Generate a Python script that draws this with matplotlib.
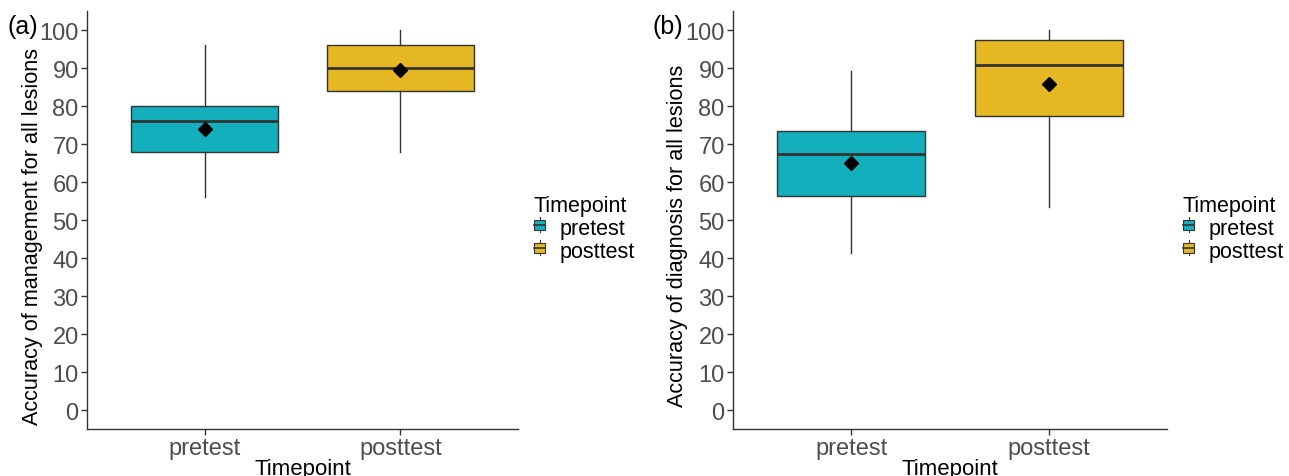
import matplotlib
matplotlib.use('Agg')
import matplotlib.pyplot as plt
from matplotlib.patches import Rectangle
from matplotlib.lines import Line2D
from matplotlib.legend_handler import HandlerBase

plt.rcParams['font.family'] = ['Liberation Sans', 'DejaVu Sans']

groups = ['pretest', 'posttest']
colors = ['#14AFBC', '#E5B823']

# panel (a): management
mgmt_whislo = [56, 68]
mgmt_q1 = [68, 84]
mgmt_med = [76, 90]
mgmt_q3 = [80, 96]
mgmt_whishi = [96, 100]
mgmt_mean = [74, 89.5]

# panel (b): diagnosis
diag_whislo = [41.3, 53.4]
diag_q1 = [56.4, 77.4]
diag_med = [67.3, 90.7]
diag_q3 = [73.4, 97.4]
diag_whishi = [89.3, 100]
diag_mean = [65.1, 85.7]

yticks = list(range(0, 101, 10))


class BoxKey(HandlerBase):
    # little boxplot glyph like the ggplot legend key
    def create_artists(self, legend, orig, xd, yd, w, h, fontsize, trans):
        cx = xd + w / 2
        bw = w * 0.8
        r = Rectangle((cx - bw / 2, yd + h * 0.2), bw, h * 0.6,
                      facecolor=orig.get_facecolor(), edgecolor='#333333',
                      lw=0.8, transform=trans)
        m = Line2D([cx - bw / 2, cx + bw / 2], [yd + h / 2] * 2,
                   color='#333333', lw=1.2, transform=trans)
        t = Line2D([cx, cx], [yd + h * 0.8, yd + h * 0.95],
                   color='#333333', lw=0.8, transform=trans)
        b = Line2D([cx, cx], [yd + h * 0.05, yd + h * 0.2],
                   color='#333333', lw=0.8, transform=trans)
        return [r, m, t, b]


def panel(ax, lo, q1, med, q3, hi, mean, ylabel, tag):
    stats = []
    for i in range(len(groups)):
        stats.append(dict(whislo=lo[i], q1=q1[i], med=med[i], q3=q3[i],
                          whishi=hi[i], label=groups[i]))
    pos = [1, 2]
    bp = ax.bxp(stats, positions=pos, widths=0.75, patch_artist=True,
                showcaps=False, showfliers=False,
                boxprops=dict(edgecolor='#333333', lw=1.0),
                medianprops=dict(color='#333333', lw=2.0),
                whiskerprops=dict(color='#333333', lw=1.0))
    for p, c in zip(bp['boxes'], colors):
        p.set_facecolor(c)
    ax.plot(pos, mean, 'D', color='black', ms=7, zorder=5)
    ax.set_xlim(0.4, 2.6)
    ax.set_ylim(-5, 105)
    ax.set_yticks(yticks)
    ax.set_xticks(pos)
    ax.set_xticklabels(groups)
    ax.tick_params(labelsize=17, colors='#333333', labelcolor='#4D4D4D',
                   length=4, width=1.0, pad=2)
    for s in ['top', 'right']:
        ax.spines[s].set_visible(False)
    for s in ['left', 'bottom']:
        ax.spines[s].set_color('#333333')
        ax.spines[s].set_linewidth(1.0)
    ax.set_xlabel('Timepoint', fontsize=16, labelpad=-1)
    ax.set_ylabel(ylabel, fontsize=15.6)
    ax.yaxis.set_label_coords(-0.103, 0.464)
    handles = [Rectangle((0, 0), 1, 1, facecolor=c) for c in colors]
    ax.legend(handles, groups, title='Timepoint', loc='center left',
              bbox_to_anchor=(1.0, 0.48), frameon=False, fontsize=15.5,
              title_fontsize=15.5, handler_map={Rectangle: BoxKey()},
              handlelength=0.6, handleheight=0.8, handletextpad=0.65,
              labelspacing=0.08, alignment='left', borderaxespad=0.3)
    ax.text(-0.185, 0.965, tag, transform=ax.transAxes, fontsize=18,
            ha='left', va='center')


fig = plt.figure(figsize=(12.89, 4.77), dpi=100)
ax1 = fig.add_axes([0.0675, 0.0985, 0.3344, 0.8763])
ax2 = fig.add_axes([0.5687, 0.0985, 0.3367, 0.8763])

panel(ax1, mgmt_whislo, mgmt_q1, mgmt_med, mgmt_q3, mgmt_whishi, mgmt_mean,
      'Accuracy of management for all lesions', '(a)')
panel(ax2, diag_whislo, diag_q1, diag_med, diag_q3, diag_whishi, diag_mean,
      'Accuracy of diagnosis for all lesions', '(b)')

fig.savefig('out.png', dpi=100)
